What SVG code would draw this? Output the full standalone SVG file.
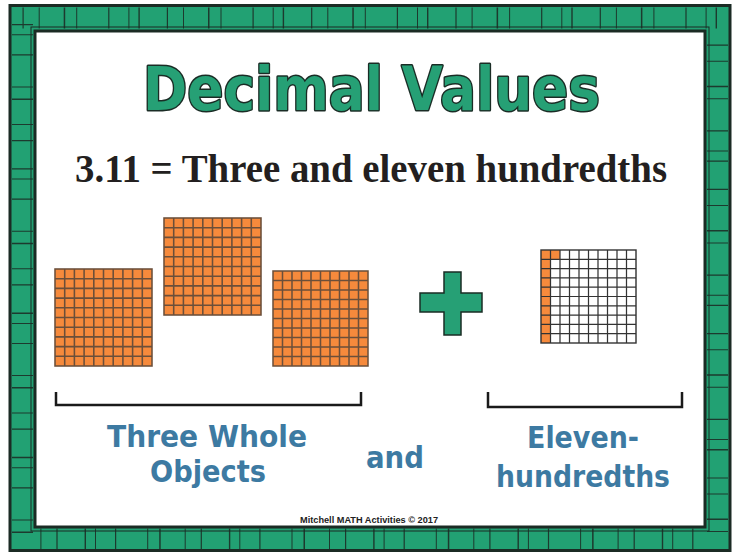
<svg xmlns="http://www.w3.org/2000/svg" width="738" height="555" viewBox="0 0 738 555">
<style>
.band{fill:none;stroke:#22a173;stroke-width:25}
.ticks{fill:none;stroke:#1d3a2e;stroke-width:21;stroke-dasharray:1.2 15 1 24 1.5 11 1 31 1.2 19 1 9 1.4 27}
.edge{fill:none;stroke:#1b2b24;stroke-width:3}
.thin{fill:none;stroke:#1b2b24;stroke-width:1}
.title{font-family:"DejaVu Sans",sans-serif;font-weight:bold;font-size:60px;fill:#26a075;stroke:#1a2c25;stroke-width:3;paint-order:stroke;stroke-linejoin:round}
.sub{font-family:"Liberation Serif",serif;font-weight:bold;font-size:40px;fill:#231f20}
.lbl{font-family:"DejaVu Sans",sans-serif;font-weight:bold;font-size:31px;fill:#3d7aa2;text-anchor:middle}
.foot{font-family:"Liberation Sans",sans-serif;font-weight:bold;font-size:9px;fill:#222}
.br{fill:none;stroke:#1a1a1a;stroke-width:2.5}
</style>
<defs>
<g id="grid">
<rect x="0" y="0" width="100" height="100" fill="#f68a3c"/>
<path d="M10 0V100M20 0V100M30 0V100M40 0V100M50 0V100M60 0V100M70 0V100M80 0V100M90 0V100M0 10H100M0 20H100M0 30H100M0 40H100M0 50H100M0 60H100M0 70H100M0 80H100M0 90H100" stroke="#6b4f3a" stroke-width="1.6" fill="none"/>
<rect x="0" y="0" width="100" height="100" fill="none" stroke="#6b4f3a" stroke-width="1.6"/>
</g>
</defs>
<rect width="738" height="555" fill="#ffffff"/>
<g id="border">
<rect class="band" x="22.5" y="18" width="695" height="521"/>
<rect class="ticks" x="22.5" y="18" width="695" height="521"/>
<rect class="edge" x="10" y="5.5" width="720" height="545"/>
<rect class="edge" x="35" y="31" width="670" height="496"/>
<rect class="thin" x="31" y="27" width="678" height="504"/>
</g>
<g id="title"><text class="title" x="143" y="110" textLength="457" lengthAdjust="spacingAndGlyphs">Decimal Values</text></g>
<g id="subtitle"><text class="sub" x="75" y="182" textLength="592" lengthAdjust="spacingAndGlyphs">3.11 = Three and eleven hundredths</text></g>
<g id="whole1"><use href="#grid" transform="translate(55,269) scale(0.97)"/></g>
<g id="whole2"><use href="#grid" transform="translate(164,218) scale(0.97)"/></g>
<g id="whole3"><use href="#grid" transform="translate(273,271) scale(0.95)"/></g>
<g id="plus">
<path d="M444 272H461V293H482V312H461V335H444V312H420V293H444Z" fill="#26a075" stroke="#1a2c25" stroke-width="1.5"/>
</g>
<g id="hundredths" transform="translate(541,250) scale(0.95,0.93)">
<rect x="0" y="0" width="100" height="100" fill="#fff"/>
<rect x="0" y="0" width="10" height="100" fill="#f68a3c"/>
<rect x="10" y="0" width="10" height="10" fill="#f68a3c"/>
<path d="M10 0V100M20 0V100M30 0V100M40 0V100M50 0V100M60 0V100M70 0V100M80 0V100M90 0V100M0 10H100M0 20H100M0 30H100M0 40H100M0 50H100M0 60H100M0 70H100M0 80H100M0 90H100" stroke="#333" stroke-width="1.3" fill="none"/>
<rect x="0" y="0" width="100" height="100" fill="none" stroke="#333" stroke-width="1.5"/>
</g>
<g id="connectors">
<path class="br" d="M56 392V405H361V392"/>
<path class="br" d="M488 392V407H682V392"/>
</g>
<g id="label-whole">
<text class="lbl" x="207" y="447" textLength="200" lengthAdjust="spacingAndGlyphs">Three Whole</text>
<text class="lbl" x="208" y="482" textLength="116" lengthAdjust="spacingAndGlyphs">Objects</text>
</g>
<g id="label-and"><text class="lbl" x="395" y="468" textLength="58" lengthAdjust="spacingAndGlyphs">and</text></g>
<g id="label-hund">
<text class="lbl" x="583" y="448" textLength="112" lengthAdjust="spacingAndGlyphs">Eleven-</text>
<text class="lbl" x="583" y="487" textLength="174" lengthAdjust="spacingAndGlyphs">hundredths</text>
</g>
<g id="footer"><text class="foot" x="300" y="523" textLength="138" lengthAdjust="spacingAndGlyphs">Mitchell MATH Activities © 2017</text></g>
</svg>
